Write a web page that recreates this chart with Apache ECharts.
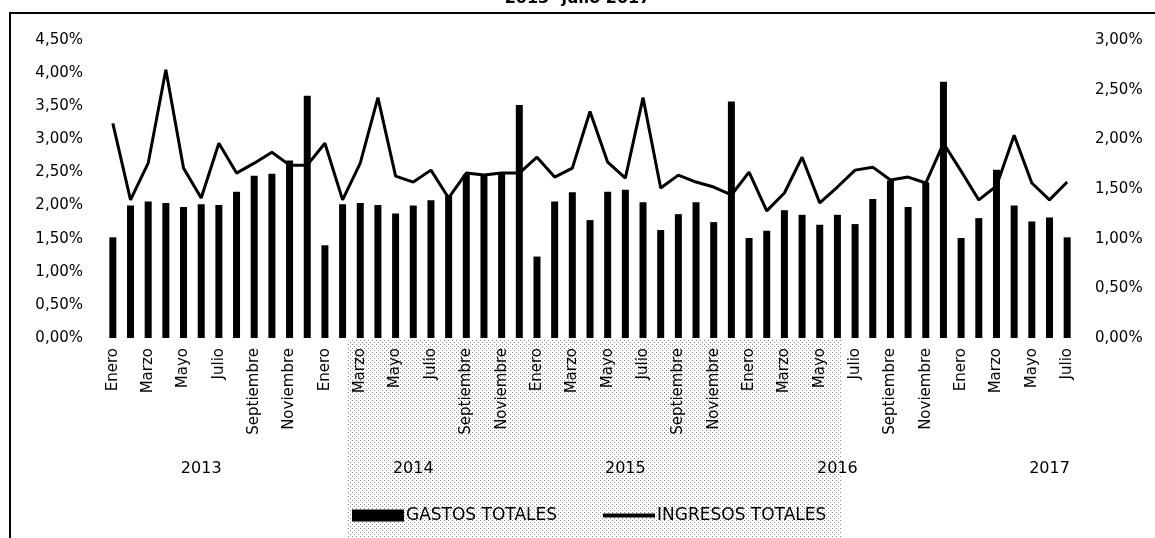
<!DOCTYPE html>
<html>
<head>
<meta charset="utf-8">
<script src="https://cdn.jsdelivr.net/npm/echarts@6/dist/echarts.min.js"></script>
<style>
html,body{margin:0;padding:0;background:#fff;}
#chart{width:1155px;height:538px;}
</style>
</head>
<body>
<div id="chart"></div>
<script>
const monthNames = ['Enero','Febrero','Marzo','Abril','Mayo','Junio','Julio','Agosto','Septiembre','Octubre','Noviembre','Diciembre'];
const years = ['2013','2014','2015','2016','2017'];
const monthsPerYear = [12,12,12,12,7];
const gastos = [1.52,2.00,2.06,2.04,1.98,2.02,2.01,2.21,2.45,2.48,2.68,3.66,
  1.40,2.02,2.04,2.01,1.88,2.00,2.08,2.15,2.47,2.46,2.50,3.52,
  1.23,2.06,2.20,1.78,2.21,2.24,2.05,1.63,1.87,2.05,1.75,3.57,
  1.51,1.62,1.93,1.86,1.71,1.86,1.72,2.10,2.38,1.98,2.35,3.87,
  1.51,1.81,2.54,2.00,1.76,1.82,1.52];
const ingresos = [2.16,1.39,1.76,2.70,1.71,1.41,1.96,1.66,1.76,1.87,1.74,1.74,
  1.96,1.39,1.76,2.42,1.63,1.57,1.69,1.41,1.66,1.64,1.66,1.66,
  1.82,1.62,1.71,2.28,1.77,1.61,2.42,1.51,1.64,1.57,1.52,1.44,
  1.67,1.28,1.46,1.82,1.36,1.52,1.69,1.72,1.59,1.62,1.56,1.96,
  1.68,1.39,1.53,2.04,1.56,1.39,1.57];
const leftTicks = {min:0, max:4.5, interval:0.5};
const rightTicks = {min:0, max:3, interval:0.5};

// build categories
const categories = [];
const yearCats = [];
const yearLabelOffset = [5,5,5,5,5]; // label placed at this month index within each year
years.forEach((y, yi) => {
  for (let m = 0; m < monthsPerYear[yi]; m++) {
    categories.push(monthNames[m]);
    yearCats.push(m === yearLabelOffset[yi] ? y : '');
  }
});

// halftone pattern (scan texture)
const pc = document.createElement('canvas');
pc.width = 4; pc.height = 4;
const pctx = pc.getContext('2d');
pctx.fillStyle = '#8a8a8a';
pctx.fillRect(0,0,1,1);
pctx.fillRect(2,2,1,1);

const pct = v => v.toFixed(2).replace('.', ',') + '%';
const font = 'DejaVu Sans';

const chart = echarts.init(document.getElementById('chart'));
chart.setOption({
  animation: false,
  backgroundColor: '#fff',
  title: {
    text: '2013- julio 2017',
    left: 'center', top: -14,
    textStyle: {fontFamily: font, fontWeight: 'bold', fontSize: 16, color: '#000'}
  },
  graphic: [
    {type:'rect', z:-10, shape:{x:348,y:340,width:494,height:200}, style:{fill:{image:pc, repeat:'repeat'}}},
    {type:'rect', z:100, shape:{x:10,y:13,width:1160,height:540}, style:{fill:null, stroke:'#000', lineWidth:2}}
  ],
  grid: {left:104, right:79, top:40, bottom:200},
  legend: {
    top: 502, left: 347,
    itemWidth: 52, itemHeight: 12, itemGap: 46,
    textStyle: {fontFamily: font, fontSize: 17, color: '#000', padding:[0,0,0,-3]},
    data: [
      {name:'GASTOS TOTALES', icon:'rect'},
      {name:'INGRESOS TOTALES', icon:'path://M0,0 H52 V4 H0 Z'}
    ]
  },
  xAxis: [
    {
      type:'category', data: categories, position:'bottom',
      axisLine:{show:false}, axisTick:{show:false},
      axisLabel:{interval:1, rotate:90, margin:10, fontFamily:font, fontSize:15, color:'#000'}
    },
    {
      type:'category', data: yearCats, position:'bottom', offset:115,
      axisLine:{show:false}, axisTick:{show:false},
      axisLabel:{interval:0, margin:8, fontFamily:font, fontSize:16, color:'#000'}
    }
  ],
  yAxis: [
    {
      type:'value', min:leftTicks.min, max:leftTicks.max, interval:leftTicks.interval,
      splitLine:{show:false}, axisLine:{show:false}, axisTick:{show:false},
      axisLabel:{margin:21, fontFamily:font, fontSize:15, color:'#000', formatter: pct}
    },
    {
      type:'value', min:rightTicks.min, max:rightTicks.max, interval:rightTicks.interval,
      splitLine:{show:false}, axisLine:{show:false}, axisTick:{show:false},
      axisLabel:{margin:19, fontFamily:font, fontSize:15, color:'#000', formatter: pct}
    }
  ],
  series: [
    {
      name:'GASTOS TOTALES', type:'bar', data:gastos, xAxisIndex:0, yAxisIndex:0,
      barWidth:7, itemStyle:{color:'#000'}
    },
    {
      name:'INGRESOS TOTALES', type:'line', data:ingresos, xAxisIndex:0, yAxisIndex:1,
      symbol:'none', lineStyle:{color:'#000', width:3}, itemStyle:{color:'#000'}
    }
  ]
});
</script>
</body>
</html>
